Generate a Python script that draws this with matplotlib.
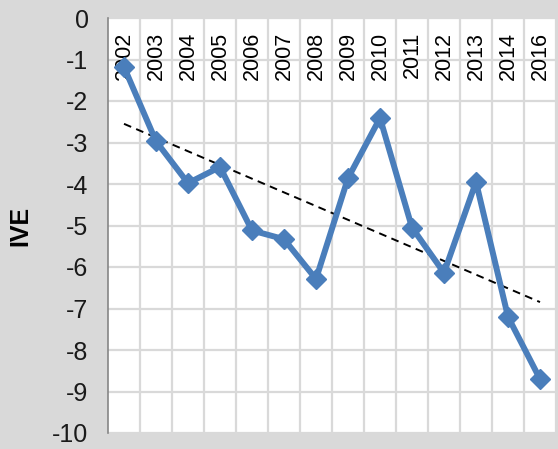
import numpy as np
import matplotlib
matplotlib.use("Agg")
import matplotlib.pyplot as plt

years = ["2002", "2003", "2004", "2005", "2006", "2007", "2008",
         "2009", "2010", "2011", "2012", "2013", "2014", "2016"]
ive = [-1.18, -2.97, -3.98, -3.59, -5.12, -5.33, -6.29,
       -3.86, -2.41, -5.05, -6.14, -3.95, -7.2, -8.7]
yticks = [0, -1, -2, -3, -4, -5, -6, -7, -8, -9, -10]

plt.rcParams['font.family'] = ['Liberation Sans', 'DejaVu Sans']
fig = plt.figure(figsize=(5.58, 4.49), dpi=100, facecolor='#d9d9d9')
ax = fig.add_axes([108/558, 16/449, 448/558, 415/449])
ax.set_facecolor('white')

x = np.arange(len(years))
ax.set_xlim(-0.5, len(years) - 0.5)
ax.set_ylim(-10, 0)

# grid
ax.set_yticks(yticks)
ax.set_yticklabels([str(v) for v in yticks], fontsize=18, color='#1a1a1a')
ax.set_xticks(x + 0.5, minor=True)
ax.set_xticks([])
ax.grid(True, axis='y', color='#d9d9d9', lw=1.6, zorder=0)
ax.grid(True, axis='x', which='minor', color='#d9d9d9', lw=1.6, zorder=0)
ax.tick_params(axis='y', length=0, pad=14)
ax.tick_params(axis='x', which='both', length=0)
for s in ['top', 'right', 'bottom']:
    ax.spines[s].set_visible(False)
ax.spines['left'].set_color('#868686')
ax.spines['left'].set_linewidth(1.2)

# year labels inside top
for xi, yr in zip(x, years):
    ax.text(xi, -0.33, yr, rotation=90, ha='center', va='top', fontsize=15.5,
            color='black', zorder=3)

# trend
coef = np.polyfit(x, ive, 1)
ax.plot(x, np.polyval(coef, x), ls=(0, (4, 2.8)), color='black', lw=1.4, zorder=4)

ax.plot(x, ive, color='#4a7ebb', lw=4.3, marker='D', markersize=10.5, zorder=5)

ax.set_ylabel('IVE', fontsize=18, fontweight='bold', labelpad=14)

fig.savefig('out.png', dpi=100, facecolor=fig.get_facecolor())
